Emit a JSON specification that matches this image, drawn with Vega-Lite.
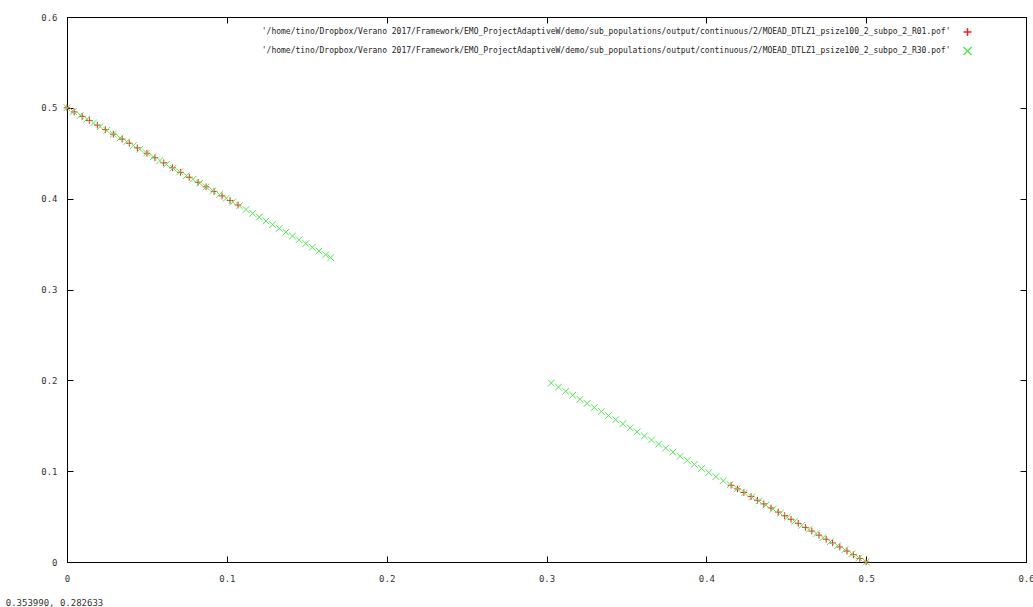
{
  "$schema": "https://vega.github.io/schema/vega-lite/v6.json",
  "autosize": {"type": "none"},
  "padding": {"left": 67, "top": 17, "right": 7, "bottom": 45},
  "width": 959,
  "height": 545,
  "background": "white",
  "config": {
    "view": {"stroke": "#000000", "strokeWidth": 1},
    "font": "DejaVu Sans Mono",
    "axis": {
      "grid": false,
      "domainColor": "#000000",
      "domainWidth": 1,
      "tickColor": "#000000",
      "tickSize": -6,
      "tickWidth": 1,
      "labelFont": "DejaVu Sans Mono",
      "labelFontSize": 9,
      "labelColor": "#333333",
      "title": null
    }
  },
  "title": {
    "text": "0.353990, 0.282633",
    "orient": "bottom",
    "anchor": "start",
    "frame": "bounds",
    "font": "DejaVu Sans Mono",
    "fontSize": 9,
    "fontWeight": "normal",
    "color": "#333333",
    "offset": 16,
    "dx": -35
  },
  "data": {
    "values": [
      {"file": "R01", "f1": 0.0, "f2": 0.5},
      {"file": "R01", "f1": 0.0045, "f2": 0.4955},
      {"file": "R01", "f1": 0.0095, "f2": 0.4905},
      {"file": "R01", "f1": 0.014, "f2": 0.486},
      {"file": "R01", "f1": 0.019, "f2": 0.481},
      {"file": "R01", "f1": 0.024, "f2": 0.476},
      {"file": "R01", "f1": 0.029, "f2": 0.471},
      {"file": "R01", "f1": 0.0345, "f2": 0.4655},
      {"file": "R01", "f1": 0.039, "f2": 0.461},
      {"file": "R01", "f1": 0.044, "f2": 0.456},
      {"file": "R01", "f1": 0.05, "f2": 0.45},
      {"file": "R01", "f1": 0.055, "f2": 0.445},
      {"file": "R01", "f1": 0.0605, "f2": 0.4395},
      {"file": "R01", "f1": 0.066, "f2": 0.434},
      {"file": "R01", "f1": 0.071, "f2": 0.429},
      {"file": "R01", "f1": 0.0765, "f2": 0.4235},
      {"file": "R01", "f1": 0.082, "f2": 0.418},
      {"file": "R01", "f1": 0.087, "f2": 0.413},
      {"file": "R01", "f1": 0.092, "f2": 0.408},
      {"file": "R01", "f1": 0.097, "f2": 0.403},
      {"file": "R01", "f1": 0.102, "f2": 0.398},
      {"file": "R01", "f1": 0.107, "f2": 0.393},
      {"file": "R01", "f1": 0.4155, "f2": 0.0845},
      {"file": "R01", "f1": 0.4195, "f2": 0.0805},
      {"file": "R01", "f1": 0.4235, "f2": 0.0765},
      {"file": "R01", "f1": 0.428, "f2": 0.072},
      {"file": "R01", "f1": 0.432, "f2": 0.068},
      {"file": "R01", "f1": 0.436, "f2": 0.064},
      {"file": "R01", "f1": 0.4405, "f2": 0.0595},
      {"file": "R01", "f1": 0.445, "f2": 0.055},
      {"file": "R01", "f1": 0.449, "f2": 0.051},
      {"file": "R01", "f1": 0.453, "f2": 0.047},
      {"file": "R01", "f1": 0.4575, "f2": 0.0425},
      {"file": "R01", "f1": 0.462, "f2": 0.038},
      {"file": "R01", "f1": 0.466, "f2": 0.034},
      {"file": "R01", "f1": 0.4705, "f2": 0.0295},
      {"file": "R01", "f1": 0.475, "f2": 0.025},
      {"file": "R01", "f1": 0.479, "f2": 0.021},
      {"file": "R01", "f1": 0.4835, "f2": 0.0165},
      {"file": "R01", "f1": 0.488, "f2": 0.012},
      {"file": "R01", "f1": 0.492, "f2": 0.008},
      {"file": "R01", "f1": 0.496, "f2": 0.004},
      {"file": "R01", "f1": 0.5, "f2": 0.0},
      {"file": "R30", "f1": 0.0, "f2": 0.5},
      {"file": "R30", "f1": 0.0041, "f2": 0.4959},
      {"file": "R30", "f1": 0.0083, "f2": 0.4917},
      {"file": "R30", "f1": 0.0124, "f2": 0.4876},
      {"file": "R30", "f1": 0.0166, "f2": 0.4834},
      {"file": "R30", "f1": 0.0207, "f2": 0.4793},
      {"file": "R30", "f1": 0.0249, "f2": 0.4751},
      {"file": "R30", "f1": 0.029, "f2": 0.471},
      {"file": "R30", "f1": 0.0332, "f2": 0.4668},
      {"file": "R30", "f1": 0.0373, "f2": 0.4627},
      {"file": "R30", "f1": 0.0415, "f2": 0.4585},
      {"file": "R30", "f1": 0.0456, "f2": 0.4544},
      {"file": "R30", "f1": 0.0498, "f2": 0.4502},
      {"file": "R30", "f1": 0.0539, "f2": 0.4461},
      {"file": "R30", "f1": 0.0581, "f2": 0.4419},
      {"file": "R30", "f1": 0.0622, "f2": 0.4378},
      {"file": "R30", "f1": 0.0664, "f2": 0.4336},
      {"file": "R30", "f1": 0.0705, "f2": 0.4295},
      {"file": "R30", "f1": 0.0747, "f2": 0.4253},
      {"file": "R30", "f1": 0.0788, "f2": 0.4212},
      {"file": "R30", "f1": 0.083, "f2": 0.417},
      {"file": "R30", "f1": 0.0871, "f2": 0.4129},
      {"file": "R30", "f1": 0.0913, "f2": 0.4087},
      {"file": "R30", "f1": 0.0954, "f2": 0.4046},
      {"file": "R30", "f1": 0.0996, "f2": 0.4004},
      {"file": "R30", "f1": 0.1037, "f2": 0.3963},
      {"file": "R30", "f1": 0.1079, "f2": 0.3921},
      {"file": "R30", "f1": 0.112, "f2": 0.388},
      {"file": "R30", "f1": 0.1162, "f2": 0.3838},
      {"file": "R30", "f1": 0.1203, "f2": 0.3797},
      {"file": "R30", "f1": 0.1245, "f2": 0.3755},
      {"file": "R30", "f1": 0.1286, "f2": 0.3714},
      {"file": "R30", "f1": 0.1328, "f2": 0.3672},
      {"file": "R30", "f1": 0.1369, "f2": 0.3631},
      {"file": "R30", "f1": 0.1411, "f2": 0.3589},
      {"file": "R30", "f1": 0.1452, "f2": 0.3548},
      {"file": "R30", "f1": 0.1494, "f2": 0.3506},
      {"file": "R30", "f1": 0.1535, "f2": 0.3465},
      {"file": "R30", "f1": 0.1577, "f2": 0.3423},
      {"file": "R30", "f1": 0.1618, "f2": 0.3382},
      {"file": "R30", "f1": 0.165, "f2": 0.335},
      {"file": "R30", "f1": 0.303, "f2": 0.197},
      {"file": "R30", "f1": 0.3075, "f2": 0.1925},
      {"file": "R30", "f1": 0.312, "f2": 0.188},
      {"file": "R30", "f1": 0.3164, "f2": 0.1836},
      {"file": "R30", "f1": 0.3209, "f2": 0.1791},
      {"file": "R30", "f1": 0.3254, "f2": 0.1746},
      {"file": "R30", "f1": 0.3299, "f2": 0.1701},
      {"file": "R30", "f1": 0.3343, "f2": 0.1657},
      {"file": "R30", "f1": 0.3388, "f2": 0.1612},
      {"file": "R30", "f1": 0.3433, "f2": 0.1567},
      {"file": "R30", "f1": 0.3478, "f2": 0.1522},
      {"file": "R30", "f1": 0.3523, "f2": 0.1477},
      {"file": "R30", "f1": 0.3567, "f2": 0.1433},
      {"file": "R30", "f1": 0.3612, "f2": 0.1388},
      {"file": "R30", "f1": 0.3657, "f2": 0.1343},
      {"file": "R30", "f1": 0.3702, "f2": 0.1298},
      {"file": "R30", "f1": 0.3746, "f2": 0.1254},
      {"file": "R30", "f1": 0.3791, "f2": 0.1209},
      {"file": "R30", "f1": 0.3836, "f2": 0.1164},
      {"file": "R30", "f1": 0.3881, "f2": 0.1119},
      {"file": "R30", "f1": 0.3925, "f2": 0.1075},
      {"file": "R30", "f1": 0.397, "f2": 0.103},
      {"file": "R30", "f1": 0.4015, "f2": 0.0985},
      {"file": "R30", "f1": 0.406, "f2": 0.094},
      {"file": "R30", "f1": 0.4105, "f2": 0.0895},
      {"file": "R30", "f1": 0.4149, "f2": 0.0851},
      {"file": "R30", "f1": 0.4194, "f2": 0.0806},
      {"file": "R30", "f1": 0.4239, "f2": 0.0761},
      {"file": "R30", "f1": 0.4284, "f2": 0.0716},
      {"file": "R30", "f1": 0.4328, "f2": 0.0672},
      {"file": "R30", "f1": 0.4373, "f2": 0.0627},
      {"file": "R30", "f1": 0.4418, "f2": 0.0582},
      {"file": "R30", "f1": 0.4463, "f2": 0.0537},
      {"file": "R30", "f1": 0.4507, "f2": 0.0493},
      {"file": "R30", "f1": 0.4552, "f2": 0.0448},
      {"file": "R30", "f1": 0.4597, "f2": 0.0403},
      {"file": "R30", "f1": 0.4642, "f2": 0.0358},
      {"file": "R30", "f1": 0.4687, "f2": 0.0313},
      {"file": "R30", "f1": 0.4731, "f2": 0.0269},
      {"file": "R30", "f1": 0.4776, "f2": 0.0224},
      {"file": "R30", "f1": 0.4821, "f2": 0.0179},
      {"file": "R30", "f1": 0.4866, "f2": 0.0134},
      {"file": "R30", "f1": 0.491, "f2": 0.009},
      {"file": "R30", "f1": 0.4955, "f2": 0.0045},
      {"file": "R30", "f1": 0.5, "f2": 0.0}
    ]
  },
  "layer": [
    {
      "mark": {"type": "point", "filled": false, "strokeWidth": 1, "opacity": 1},
      "encoding": {
        "x": {"field": "f1", "type": "quantitative", "scale": {"domain": [0, 0.6], "nice": false, "zero": false}, "axis": {"orient": "bottom", "values": [0, 0.1, 0.2, 0.3, 0.4, 0.5, 0.6], "labelExpr": "datum.value == 0 ? '0' : format(datum.value, '.1f')", "labelPadding": 18, "labelFlush": false}},
        "y": {"field": "f2", "type": "quantitative", "scale": {"domain": [0, 0.6], "nice": false, "zero": false}, "axis": {"orient": "left", "values": [0, 0.1, 0.2, 0.3, 0.4, 0.5, 0.6], "labelExpr": "datum.value == 0 ? '0' : format(datum.value, '.1f')", "labelPadding": 16, "labelFlush": false}},
        "color": {
          "field": "file", "type": "nominal",
          "scale": {"domain": ["R01", "R30"], "range": ["#ff1a1a", "#4fe64f"]},
          "legend": {
            "title": null,
            "orient": "none",
            "legendX": 895.5,
            "legendY": 10,
            "padding": 0,
            "labelFont": "DejaVu Sans Mono",
            "labelFontSize": 8,
            "labelColor": "#222222",
            "labelAlign": "right",
            "labelOffset": -22,
            "labelLimit": 0,
            "rowPadding": 5,
            "symbolSize": 64,
            "symbolStrokeWidth": 1.4,
            "symbolStrokeColor": null,
            "labelExpr": "'\\'/home/tino/Dropbox/Verano 2017/Framework/EMO_ProjectAdaptiveW/demo/sub_populations/output/continuous/2/MOEAD_DTLZ1_psize100_2_subpo_2_' + datum.label + '.pof\\''"
          }
        },
        "shape": {
          "field": "file", "type": "nominal",
          "scale": {"domain": ["R01", "R30"], "range": ["M-1,0L1,0M0,-1L0,1", "M-1,-1L1,1M-1,1L1,-1"]},
          "legend": null
        },
        "size": {"value": 45}
      }
    },
    {
      "mark": {"type": "point", "opacity": 0},
      "encoding": {
        "x": {"field": "f1", "type": "quantitative", "axis": {"orient": "top", "values": [0, 0.1, 0.2, 0.3, 0.4, 0.5, 0.6], "labels": false, "domain": false}},
        "y": {"field": "f2", "type": "quantitative", "axis": {"orient": "right", "values": [0, 0.1, 0.2, 0.3, 0.4, 0.5, 0.6], "labels": false, "domain": false}}
      }
    }
  ],
  "resolve": {"axis": {"x": "independent", "y": "independent"}}
}
